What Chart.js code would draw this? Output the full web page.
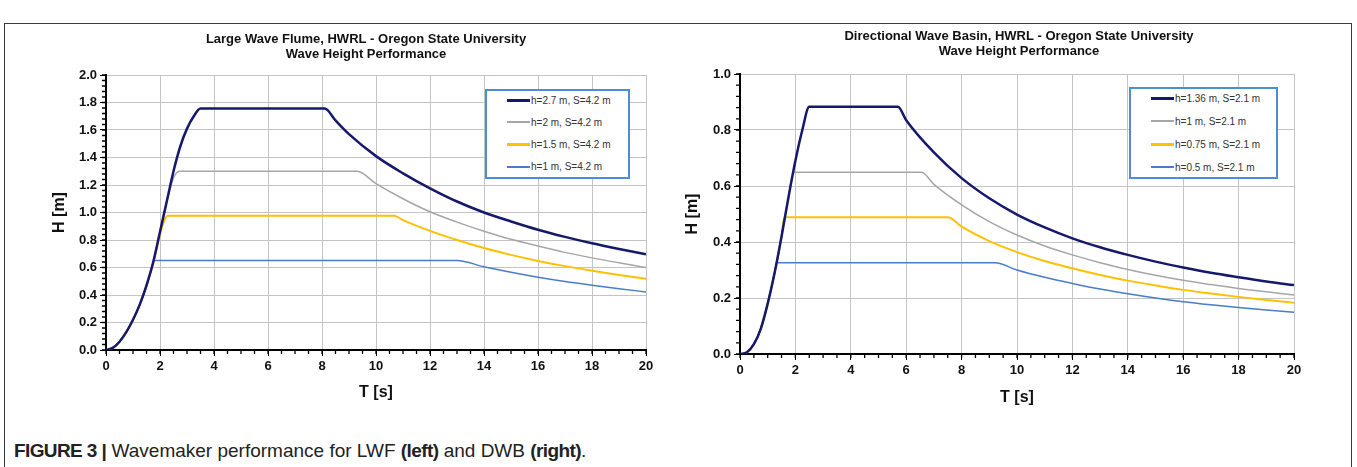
<!DOCTYPE html>
<html>
<head>
<meta charset="utf-8">
<script src="https://cdn.jsdelivr.net/npm/chart.js@4.4.0/dist/chart.umd.min.js"></script>
<style>
  body { margin: 0; width: 1357px; height: 467px; overflow: hidden; position: relative; background: #fff;
         font-family: "Liberation Sans", Arial, sans-serif; }
  #frame { position: absolute; left: 4px; top: 23px; width: 1346px; height: 480px; border: 1.5px solid #3a3a3a; }
  .wrap { position: absolute; }
  #lwfWrap { left: 30px; top: 28px; width: 640px; height: 380px; }
  #dwbWrap { left: 660px; top: 28px; width: 670px; height: 385px; }
  .legend { position: absolute; background: #fff; border: 2px solid #4a8fd0; box-sizing: border-box;
            font-size: 10px; color: #333; }
  .legend .row { position: absolute; height: 14px; display: flex; align-items: center; white-space: nowrap; }
  .legend .swatch { display: inline-block; width: 23px; margin-right: 1px; }
  #lwfLegend { left: 485px; top: 89px; width: 145px; height: 90px; }
  #dwbLegend { left: 1129px; top: 87px; width: 149px; height: 92px; }
  #caption { position: absolute; left: 14px; top: 440px; font-size: 19px; color: #222; white-space: nowrap;
             font-family: "Liberation Sans", Arial, sans-serif; }
  #caption b { letter-spacing: -0.6px; }
</style>
</head>
<body>
<div id="frame"></div>
<div class="wrap" id="lwfWrap"><canvas id="lwfChart"></canvas></div>
<div class="wrap" id="dwbWrap"><canvas id="dwbChart"></canvas></div>
<div class="legend" id="lwfLegend"></div>
<div class="legend" id="dwbLegend"></div>
<div id="caption"><b>FIGURE 3 |</b> Wavemaker performance for LWF <b>(left)</b> and DWB <b>(right)</b>.</div>

<script>
// ---- Large Wave Flume (left) ----
const lwfLabels = ['h=2.7 m, S=4.2 m', 'h=2 m, S=4.2 m', 'h=1.5 m, S=4.2 m', 'h=1 m, S=4.2 m'];

const lwfT27 = [0, 0.25, 0.5, 0.75, 1, 1.25, 1.5, 1.75, 2, 2.25, 2.5, 2.75, 3, 3.25, 3.5, 8.1, 8.5, 9, 10, 11, 12, 13, 14, 15, 16, 17, 18, 19, 20];
const lwfH27 = [0, 0.015, 0.06, 0.13, 0.22, 0.33, 0.47, 0.64, 0.86, 1.08, 1.3, 1.48, 1.61, 1.7, 1.756, 1.756, 1.67, 1.57, 1.41, 1.285, 1.176, 1.08, 1.0, 0.935, 0.875, 0.823, 0.776, 0.735, 0.697];

const lwfT20 = [0, 0.25, 0.5, 0.75, 1, 1.25, 1.5, 1.75, 2, 2.25, 2.5, 2.72, 9.3, 10, 11, 12, 13, 14, 15, 16, 17, 18, 19, 20];
const lwfH20 = [0, 0.015, 0.06, 0.13, 0.22, 0.33, 0.47, 0.64, 0.86, 1.08, 1.25, 1.3, 1.3, 1.21, 1.1, 1.005, 0.93, 0.864, 0.805, 0.756, 0.71, 0.67, 0.634, 0.6];

const lwfT15 = [0, 0.25, 0.5, 0.75, 1, 1.25, 1.5, 1.75, 2, 2.15, 2.28, 10.67, 11, 12, 13, 14, 15, 16, 17, 18, 19, 20];
const lwfH15 = [0, 0.015, 0.06, 0.13, 0.22, 0.33, 0.47, 0.63, 0.84, 0.935, 0.976, 0.976, 0.945, 0.866, 0.8, 0.742, 0.692, 0.648, 0.61, 0.577, 0.546, 0.518];

const lwfT10 = [0, 0.25, 0.5, 0.75, 1, 1.25, 1.5, 1.65, 1.79, 13, 14, 15, 16, 17, 18, 19, 20];
const lwfH10 = [0, 0.015, 0.06, 0.13, 0.22, 0.33, 0.46, 0.57, 0.651, 0.651, 0.605, 0.565, 0.529, 0.498, 0.471, 0.446, 0.422];

// ---- Directional Wave Basin (right) ----
const dwbLabels = ['h=1.36 m, S=2.1 m', 'h=1 m, S=2.1 m', 'h=0.75 m, S=2.1 m', 'h=0.5 m, S=2.1 m'];

const dwbT136 = [0, 0.25, 0.5, 0.75, 1, 1.25, 1.5, 1.75, 2, 2.25, 2.5, 5.7, 6, 7, 8, 9, 10, 11, 12, 13, 14, 15, 16, 17, 18, 19, 20];
const dwbH136 = [0, 0.006, 0.035, 0.09, 0.18, 0.29, 0.42, 0.56, 0.69, 0.8, 0.883, 0.883, 0.835, 0.72, 0.628, 0.556, 0.498, 0.452, 0.413, 0.381, 0.354, 0.33, 0.309, 0.29, 0.274, 0.259, 0.246];

const dwbT100 = [0, 0.25, 0.5, 0.75, 1, 1.25, 1.5, 1.75, 1.94, 6.55, 7, 8, 9, 10, 11, 12, 13, 14, 15, 16, 17, 18, 19, 20];
const dwbH100 = [0, 0.006, 0.035, 0.09, 0.18, 0.29, 0.42, 0.56, 0.649, 0.649, 0.606, 0.533, 0.473, 0.425, 0.386, 0.354, 0.326, 0.302, 0.281, 0.263, 0.248, 0.234, 0.222, 0.211];

const dwbT075 = [0, 0.25, 0.5, 0.75, 1, 1.25, 1.5, 1.6, 7.5, 8, 9, 10, 11, 12, 13, 14, 15, 16, 17, 18, 19, 20];
const dwbH075 = [0, 0.006, 0.035, 0.09, 0.18, 0.29, 0.42, 0.488, 0.488, 0.455, 0.403, 0.364, 0.332, 0.306, 0.282, 0.262, 0.245, 0.229, 0.216, 0.204, 0.193, 0.183];

const dwbT050 = [0, 0.25, 0.5, 0.75, 1, 1.25, 1.32, 9.2, 10, 11, 12, 13, 14, 15, 16, 17, 18, 19, 20];
const dwbH050 = [0, 0.006, 0.035, 0.09, 0.18, 0.29, 0.326, 0.326, 0.3, 0.274, 0.252, 0.232, 0.215, 0.2, 0.187, 0.176, 0.166, 0.157, 0.149];

const seriesColors = ['#16196b', '#a6a6a6', '#ffc000', '#4a7cc9'];
const seriesWidths = [2.5, 1.5, 2, 1.5];

function toPoints(ts, hs) {
  return ts.map((t, i) => ({ x: t, y: hs[i] }));
}

function buildDatasets(labels, pairs) {
  return pairs.map((p, i) => ({
    label: labels[i],
    data: toPoints(p[0], p[1]),
    borderColor: seriesColors[i],
    borderWidth: seriesWidths[i],
    pointRadius: 0,
    fill: false,
    cubicInterpolationMode: 'monotone'
  }));
}

// titles and axis titles, centred on the plot area
const figText = {
  id: 'figText',
  afterDraw(chart, args, o) {
    const { ctx, chartArea: a } = chart;
    const cx = (a.left + a.right) / 2;
    ctx.save();
    ctx.fillStyle = '#111';
    ctx.textAlign = 'center';
    ctx.textBaseline = 'middle';
    ctx.font = 'bold 13px "Liberation Sans", Arial, sans-serif';
    o.title.forEach((t, i) => ctx.fillText(t, cx + o.titleDx, o.titleY + i * 15));
    ctx.font = 'bold 16px "Liberation Sans", Arial, sans-serif';
    ctx.fillText(o.xTitle, cx, a.bottom + o.xTitleGap);
    ctx.translate(a.left - o.yTitleGap, (a.top + a.bottom) / 2);
    ctx.rotate(-Math.PI / 2);
    ctx.fillText(o.yTitle, 0, 0);
    ctx.restore();
  }
};

// small tick marks between the labelled ones
const minorTicks = {
  id: 'minorTicks',
  afterDraw(chart, args, o) {
    const { ctx, scales: { x, y } } = chart;
    ctx.save();
    ctx.strokeStyle = '#000';
    ctx.lineWidth = 1.3;
    ctx.beginPath();
    const nx = Math.round((x.max - x.min) / o.xStep);
    for (let i = 0; i <= nx; i++) {
      const px = x.getPixelForValue(x.min + i * o.xStep);
      ctx.moveTo(px, y.bottom);
      ctx.lineTo(px, y.bottom + 4);
    }
    const ny = Math.round((y.max - y.min) / o.yStep);
    for (let i = 0; i <= ny; i++) {
      const py = y.getPixelForValue(y.min + i * o.yStep);
      ctx.moveTo(x.left - 4, py);
      ctx.lineTo(x.left, py);
    }
    ctx.stroke();
    ctx.restore();
  }
};

function makeChart(id, datasets, yMax, yWidth, xHeight, pad, text) {
  const tickFont = { family: '"Liberation Sans", Arial, sans-serif', size: 13, weight: 'bold' };
  return new Chart(document.getElementById(id), {
    type: 'line',
    data: { datasets: datasets },
    plugins: [figText, minorTicks],
    options: {
      responsive: true,
      maintainAspectRatio: false,
      animation: false,
      layout: { padding: pad },
      plugins: {
        legend: { display: false },
        tooltip: { enabled: false },
        figText: text,
        minorTicks: { xStep: 0.5, yStep: 0.04 }
      },
      scales: {
        x: {
          type: 'linear',
          min: 0,
          max: 20,
          ticks: { stepSize: 2, color: '#111', font: tickFont, padding: 3, maxRotation: 0 },
          grid: { color: '#c4c4c4', lineWidth: 1, tickLength: 6, tickColor: '#000' },
          border: { color: '#000', width: 2 },
          afterFit(s) { s.height = xHeight; }
        },
        y: {
          min: 0,
          max: yMax,
          ticks: { stepSize: 0.2, color: '#111', font: tickFont, padding: 3,
                   callback: v => v.toFixed(1) },
          grid: { color: '#c4c4c4', lineWidth: 1, tickLength: 6, tickColor: '#000' },
          border: { color: '#000', width: 2 },
          afterFit(s) { s.width = yWidth; }
        }
      }
    }
  });
}

function buildLegend(id, labels, step) {
  const box = document.getElementById(id);
  labels.forEach((lab, i) => {
    const row = document.createElement('div');
    row.className = 'row';
    row.style.top = (2 + i * step) + 'px';
    row.style.left = '20px';
    const sw = document.createElement('span');
    sw.className = 'swatch';
    sw.style.height = Math.round(seriesWidths[i] + 0.5) + 'px';
    sw.style.background = seriesColors[i];
    row.appendChild(sw);
    row.appendChild(document.createTextNode(lab));
    box.appendChild(row);
  });
}

makeChart('lwfChart',
  buildDatasets(lwfLabels, [[lwfT27, lwfH27], [lwfT20, lwfH20], [lwfT15, lwfH15], [lwfT10, lwfH10]]),
  2.0, 76, 58, { top: 47, right: 24, left: 0, bottom: 0 },
  { title: ['Large Wave Flume, HWRL - Oregon State University', 'Wave Height Performance'],
    titleY: 11, titleDx: -10, xTitle: 'T [s]', xTitleGap: 43, yTitle: 'H [m]', yTitleGap: 46 });

makeChart('dwbChart',
  buildDatasets(dwbLabels, [[dwbT136, dwbH136], [dwbT100, dwbH100], [dwbT075, dwbH075], [dwbT050, dwbH050]]),
  1.0, 80, 59, { top: 46, right: 36, left: 0, bottom: 0 },
  { title: ['Directional Wave Basin, HWRL - Oregon State University', 'Wave Height Performance'],
    titleY: 8, titleDx: 2, xTitle: 'T [s]', xTitleGap: 44, yTitle: 'H [m]', yTitleGap: 47 });

buildLegend('lwfLegend', lwfLabels, 22.3);
buildLegend('dwbLegend', dwbLabels, 23);
</script>
</body>
</html>
